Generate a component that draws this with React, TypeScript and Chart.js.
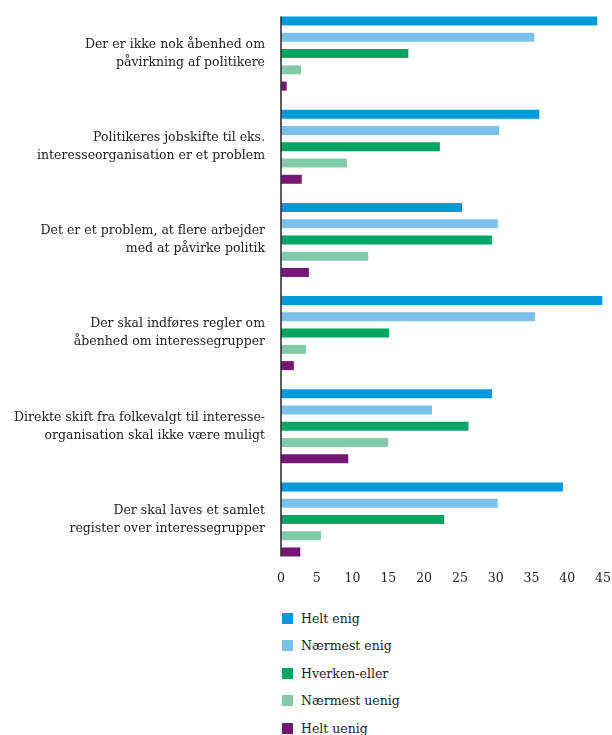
import React, { useEffect, useRef } from "react";
import { Chart, registerables } from "chart.js";

Chart.register(...registerables);

const categories: string[][] = [
  ["Der er ikke nok åbenhed om", "påvirkning af politikere"],
  ["Politikeres jobskifte til eks.", "interesseorganisation er et problem"],
  ["Det er et problem, at flere arbejder", "med at påvirke politik"],
  ["Der skal indføres regler om", "åbenhed om interessegrupper"],
  ["Direkte skift fra folkevalgt til interesse-", "organisation skal ikke være muligt"],
  ["Der skal laves et samlet", "register over interessegrupper"],
];

const seriesNames = ["Helt enig", "Nærmest enig", "Hverken-eller", "Nærmest uenig", "Helt uenig"];
const seriesColors = ["#0099dc", "#7cc1eb", "#00a661", "#83cba8", "#761775"];

const heltEnig = [44.2, 36.1, 25.3, 44.9, 29.5, 39.4];
const naermestEnig = [35.4, 30.5, 30.3, 35.5, 21.1, 30.3];
const hverkenEller = [17.8, 22.2, 29.5, 15.1, 26.2, 22.8];
const naermestUenig = [2.8, 9.2, 12.2, 3.5, 15.0, 5.6];
const heltUenig = [0.8, 2.9, 3.9, 1.8, 9.4, 2.7];

const xTicks = [0, 5, 10, 15, 20, 25, 30, 35, 40, 45];

const seriesValues = [heltEnig, naermestEnig, hverkenEller, naermestUenig, heltUenig];

const FONT = "'DejaVu Serif', 'Liberation Serif', serif";
const TEXT = "#222222";

const axisLinePlugin = {
  id: "axisLine",
  afterDatasetsDraw(chart: any) {
    const first = chart.getDatasetMeta(0).data[0];
    const lastMeta = chart.getDatasetMeta(chart.data.datasets.length - 1);
    const last = lastMeta.data[lastMeta.data.length - 1];
    if (!first || !last) return;
    const top = first.y - first.height / 2;
    const bottom = last.y + last.height / 2;
    const x = chart.chartArea.left;
    const ctx = chart.ctx;
    ctx.save();
    ctx.strokeStyle = "#333333";
    ctx.lineWidth = 1.6;
    ctx.beginPath();
    ctx.moveTo(x, top);
    ctx.lineTo(x, bottom);
    ctx.stroke();
    ctx.restore();
  },
};

export default function App() {
  const canvasRef = useRef<HTMLCanvasElement | null>(null);

  useEffect(() => {
    if (!canvasRef.current) return;
    const chart = new Chart(canvasRef.current, {
      type: "bar",
      data: {
        labels: categories,
        datasets: seriesNames.map((name, i) => ({
          label: name,
          data: seriesValues[i],
          backgroundColor: seriesColors[i],
          borderWidth: 0,
          categoryPercentage: 0.873,
          barPercentage: 0.554,
        })),
      },
      options: {
        indexAxis: "y",
        animation: false,
        responsive: true,
        maintainAspectRatio: false,
        layout: { padding: { top: 0, right: 0, bottom: 0, left: 0 } },
        plugins: {
          legend: { display: false },
          tooltip: { enabled: false },
        },
        scales: {
          x: {
            min: 0,
            max: 45,
            afterBuildTicks: (scale: any) => {
              scale.ticks = xTicks.map((v) => ({ value: v }));
            },
            afterFit: (scale: any) => {
              scale.height = 26;
              scale.paddingLeft = 0;
              scale.paddingRight = 9;
            },
            grid: { display: false, drawTicks: false },
            border: { display: false },
            ticks: {
              padding: 5,
              color: TEXT,
              font: { family: FONT, size: 12.5 },
            },
          },
          y: {
            afterFit: (scale: any) => {
              scale.width = 273;
              scale.paddingTop = 0;
              scale.paddingBottom = 0;
            },
            grid: { display: false, drawTicks: false },
            border: { display: false },
            ticks: {
              padding: 16,
              color: TEXT,
              font: { family: FONT, size: 12.5, lineHeight: 1.44 },
            },
          },
        },
      },
      plugins: [axisLinePlugin],
    });
    return () => chart.destroy();
  }, []);

  return (
    <div style={{ position: "fixed", top: 0, left: 0, width: 612, height: 735, overflow: "hidden", background: "#ffffff" }}>
      <div style={{ position: "absolute", top: 6.5, left: 8, width: 604, height: 585 }}>
        <canvas ref={canvasRef} />
      </div>
      <div style={{ position: "absolute", top: 604.25, left: 282, fontFamily: FONT, fontSize: 12.5, color: TEXT }}>
        {seriesNames.map((name, i) => (
          <div key={name} style={{ height: 27.5, display: "flex", alignItems: "center", whiteSpace: "nowrap" }}>
            <span style={{ display: "inline-block", width: 11, height: 11, background: seriesColors[i], marginRight: 8, flex: "none" }} />
            <span>{name}</span>
          </div>
        ))}
      </div>
    </div>
  );
}
